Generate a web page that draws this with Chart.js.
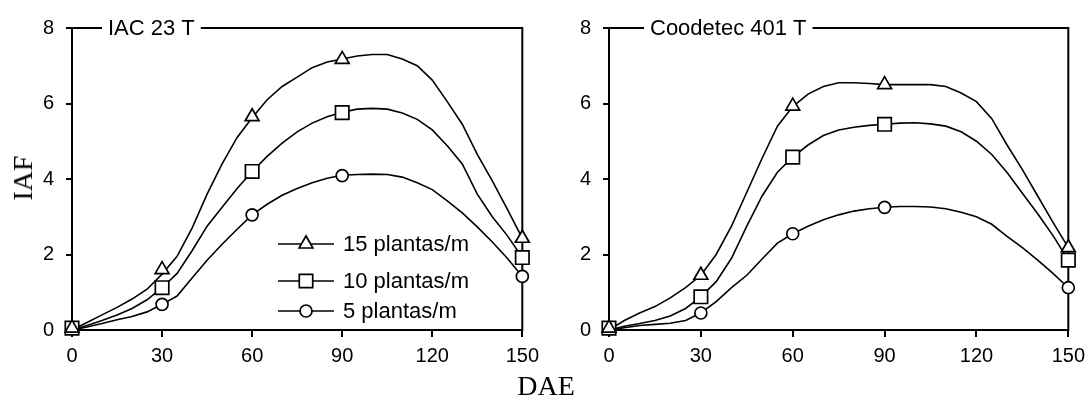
<!DOCTYPE html>
<html>
<head>
<meta charset="utf-8">
<script src="https://cdn.jsdelivr.net/npm/chart.js@4.4.1/dist/chart.umd.min.js"></script>
<style>
  html, body { margin: 0; padding: 0; background: #fff; }
  #wrap { position: relative; width: 1092px; height: 402px; overflow: hidden; background: #fff; }
  .cv { position: absolute; top: 0; width: 546px; height: 402px; }
  #yTitle { position: absolute; left: 23px; top: 178px; transform: translate(-50%, -50%) rotate(-90deg);
            font-family: "Liberation Serif", "Times New Roman", serif; font-size: 28px; color: #000; white-space: nowrap; line-height: 1; }
  #xTitle { position: absolute; left: 546px; top: 386px; transform: translate(-50%, -50%);
            font-family: "Liberation Serif", "Times New Roman", serif; font-size: 28px; color: #000; white-space: nowrap; line-height: 1; }
</style>
</head>
<body>
<div id="wrap">
  <div class="cv" style="left:0"><canvas id="c1" width="546" height="402"></canvas></div>
  <div class="cv" style="left:546px"><canvas id="c2" width="546" height="402"></canvas></div>
  <div id="yTitle">IAF</div>
  <div id="xTitle">DAE</div>
</div>
<script>
// ---------------- DATA ----------------
const panelTitles = ["IAC 23 T", "Coodetec 401 T"];
const seriesLabels = ["15 plantas/m", "10 plantas/m", "5 plantas/m"];
const xTicks = [0, 30, 60, 90, 120, 150];
const yTicks = [0, 2, 4, 6, 8];

// observed (marker) days
const obsDays = [0, 30, 60, 90, 150];
// fitted-curve days
const fitDays = [0, 5, 10, 15, 20, 25, 30, 35, 40, 45, 50, 55, 60, 65, 70, 75, 80, 85, 90, 95, 100, 105, 110, 115, 120, 125, 130, 135, 140, 145, 150];

// IAC 23 T
const iac15Obs = [0.05, 1.60, 5.65, 7.17, 2.43];
const iac10Obs = [0.05, 1.12, 4.20, 5.76, 1.92];
const iac5Obs  = [0.05, 0.68, 3.05, 4.09, 1.42];
const iac15Fit = [0, 0.20, 0.40, 0.60, 0.82, 1.08, 1.48, 1.95, 2.70, 3.60, 4.40, 5.10, 5.62, 6.10, 6.45, 6.70, 6.95, 7.10, 7.18, 7.26, 7.30, 7.30, 7.18, 7.00, 6.62, 6.05, 5.45, 4.65, 3.95, 3.20, 2.43];
const iac10Fit = [0, 0.12, 0.25, 0.40, 0.57, 0.80, 1.12, 1.50, 2.10, 2.75, 3.25, 3.75, 4.20, 4.60, 4.95, 5.25, 5.48, 5.65, 5.77, 5.85, 5.87, 5.85, 5.75, 5.58, 5.30, 4.88, 4.40, 3.60, 3.00, 2.50, 1.92];
const iac5Fit  = [0, 0.08, 0.17, 0.27, 0.36, 0.48, 0.68, 0.90, 1.38, 1.85, 2.27, 2.67, 3.05, 3.33, 3.57, 3.75, 3.90, 4.02, 4.10, 4.12, 4.13, 4.12, 4.05, 3.90, 3.72, 3.42, 3.10, 2.73, 2.33, 1.90, 1.42];

// Coodetec 401 T
const cood15Obs = [0.05, 1.45, 5.93, 6.50, 2.18];
const cood10Obs = [0.05, 0.88, 4.58, 5.45, 1.85];
const cood5Obs  = [0.05, 0.45, 2.55, 3.25, 1.12];
const cood15Fit = [0, 0.25, 0.45, 0.62, 0.85, 1.12, 1.45, 2.00, 2.75, 3.65, 4.55, 5.40, 5.92, 6.25, 6.45, 6.55, 6.55, 6.53, 6.50, 6.50, 6.50, 6.50, 6.45, 6.28, 6.05, 5.60, 4.90, 4.25, 3.55, 2.85, 2.18];
const cood10Fit = [0, 0.10, 0.17, 0.25, 0.37, 0.57, 0.88, 1.28, 1.90, 2.75, 3.55, 4.18, 4.58, 4.90, 5.15, 5.30, 5.37, 5.42, 5.45, 5.48, 5.49, 5.46, 5.40, 5.25, 5.00, 4.65, 4.17, 3.62, 3.08, 2.50, 1.85];
const cood5Fit  = [0, 0.06, 0.12, 0.15, 0.18, 0.25, 0.45, 0.75, 1.12, 1.45, 1.88, 2.30, 2.55, 2.75, 2.92, 3.05, 3.15, 3.21, 3.25, 3.27, 3.27, 3.26, 3.21, 3.12, 3.00, 2.80, 2.48, 2.18, 1.85, 1.50, 1.12];

const pointStyles = ["triangle", "rect", "circle"];
const pointRadii = [8, 9.5, 6];

// ---------------- HELPERS ----------------
function pairs(xs, ys) { return xs.map((x, i) => ({ x: x, y: ys[i] })); }

function buildDatasets(fits, obs) {
  const ds = [];
  fits.forEach((f, i) => {
    ds.push({
      label: seriesLabels[i] + " fit",
      data: pairs(fitDays, f),
      showLine: true, borderColor: "#000", borderWidth: 1.6,
      pointRadius: 0, pointHoverRadius: 0, tension: 0, fill: false, order: 2
    });
  });
  obs.forEach((o, i) => {
    ds.push({
      label: seriesLabels[i],
      data: pairs(obsDays, o),
      showLine: false, pointStyle: pointStyles[i], pointRadius: pointRadii[i],
      pointBackgroundColor: "#fff", pointBorderColor: "#000", pointBorderWidth: 1.7,
      clip: false, order: 1
    });
  });
  return ds;
}

const framePlugin = {
  id: "frame",
  beforeDatasetsDraw(chart, args, opts) {
    const a = chart.chartArea, ctx = chart.ctx;
    ctx.save();
    ctx.strokeStyle = "#000";
    ctx.lineWidth = 2;
    ctx.strokeRect(a.left, a.top, a.right - a.left, a.bottom - a.top);
    // title on the top border
    ctx.font = "22px 'Liberation Sans', Arial, sans-serif";
    const w = ctx.measureText(opts.text).width;
    const tx = a.left + opts.offset;
    ctx.fillStyle = "#fff";
    ctx.fillRect(tx - 6, a.top - 6, w + 12, 12);
    ctx.fillStyle = "#000";
    ctx.textBaseline = "middle";
    ctx.textAlign = "left";
    ctx.fillText(opts.text, tx, a.top + 1);
    ctx.restore();
  }
};

const legendPlugin = {
  id: "innerLegend",
  afterDatasetsDraw(chart, args, opts) {
    if (!opts.show) return;
    const ctx = chart.ctx;
    ctx.save();
    ctx.font = "22px 'Liberation Sans', Arial, sans-serif";
    ctx.textBaseline = "middle";
    ctx.textAlign = "left";
    opts.rows.forEach((rowY, i) => {
      ctx.strokeStyle = "#000";
      ctx.lineWidth = 1.6;
      ctx.beginPath();
      ctx.moveTo(opts.x0, rowY);
      ctx.lineTo(opts.x1, rowY);
      ctx.stroke();
      ctx.fillStyle = "#fff";
      ctx.lineWidth = 1.7;
      Chart.helpers.drawPoint(ctx, {
        pointStyle: pointStyles[i], radius: pointRadii[i], borderWidth: 1.7, rotation: 0
      }, (opts.x0 + opts.x1) / 2, rowY);
      ctx.fillStyle = "#000";
      ctx.fillText(seriesLabels[i], opts.x1 + 9, rowY + 1);
    });
    ctx.restore();
  }
};

function makeChart(id, fits, obs, title, titleOffset, yWidth, padRight, legendOpts) {
  return new Chart(document.getElementById(id), {
    type: "scatter",
    data: { datasets: buildDatasets(fits, obs) },
    plugins: [framePlugin, legendPlugin],
    options: {
      responsive: false, animation: false, devicePixelRatio: 1,
      layout: { padding: { left: 0, top: 28, right: padRight, bottom: 0 } },
      plugins: {
        legend: { display: false }, tooltip: { enabled: false },
        frame: { text: title, offset: titleOffset },
        innerLegend: legendOpts
      },
      scales: {
        x: {
          type: "linear", min: 0, max: 150,
          afterFit(s) { s.height = 72; },
          afterBuildTicks(s) { s.ticks = xTicks.map(v => ({ value: v })); },
          border: { display: false },
          grid: { display: true, drawOnChartArea: false, drawTicks: true, tickLength: 7, color: "#000", lineWidth: 2 },
          ticks: { color: "#000", padding: 7, maxRotation: 0, font: { family: "'Liberation Sans', Arial, sans-serif", size: 20 } }
        },
        y: {
          type: "linear", min: 0, max: 8,
          afterFit(s) { s.width = yWidth; },
          afterBuildTicks(s) { s.ticks = yTicks.map(v => ({ value: v })); },
          border: { display: false },
          grid: { display: true, drawOnChartArea: false, drawTicks: true, tickLength: 6, color: "#000", lineWidth: 2 },
          ticks: { color: "#000", padding: 12, font: { family: "'Liberation Sans', Arial, sans-serif", size: 20 } }
        }
      }
    }
  });
}

makeChart("c1", [iac15Fit, iac10Fit, iac5Fit], [iac15Obs, iac10Obs, iac5Obs], panelTitles[0], 36, 72, 12,
  { show: true, x0: 278, x1: 334, rows: [244, 281, 311] });
makeChart("c2", [cood15Fit, cood10Fit, cood5Fit], [cood15Obs, cood10Obs, cood5Obs], panelTitles[1], 41, 63, 21,
  { show: false });
</script>
</body>
</html>
